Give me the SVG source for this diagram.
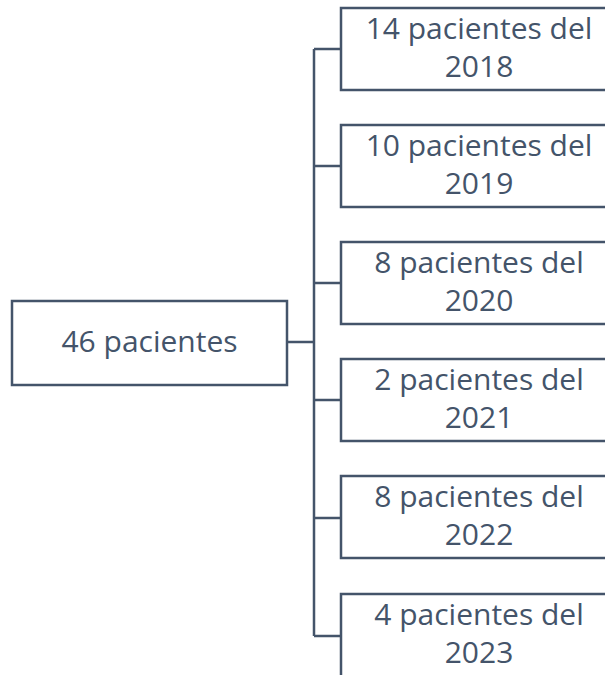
<svg xmlns="http://www.w3.org/2000/svg" width="605" height="675" viewBox="0 0 605 675">
<style>
.box{fill:#fff;stroke:#44546A;stroke-width:2.5}
.lnk{fill:none;stroke:#44546A;stroke-width:2.5}
text{font-family:"Open Sans","Liberation Sans",sans-serif;font-size:30px;fill:#44546A;text-anchor:middle}
</style>
<rect width="605" height="675" fill="#fff"/>
<g id="connectors">
<path class="lnk" d="M287 342H314M314 49V636M314 49H341M314 166H341M314 283H341M314 400H341M314 518H341M314 636H341"/>
</g>
<g id="root"><rect class="box" x="12" y="301" width="275" height="84"/><text x="149.5" y="352">46 pacientes</text></g>
<g id="n2018"><rect class="box" x="341" y="8" width="280" height="82"/><text x="479" y="39">14 pacientes del</text><text x="479" y="77">2018</text></g>
<g id="n2019"><rect class="box" x="341" y="125" width="280" height="82"/><text x="479" y="156">10 pacientes del</text><text x="479" y="194">2019</text></g>
<g id="n2020"><rect class="box" x="341" y="242" width="280" height="82"/><text x="479" y="273">8 pacientes del</text><text x="479" y="311">2020</text></g>
<g id="n2021"><rect class="box" x="341" y="359" width="280" height="82"/><text x="479" y="390">2 pacientes del</text><text x="479" y="428">2021</text></g>
<g id="n2022"><rect class="box" x="341" y="476" width="280" height="82"/><text x="479" y="507">8 pacientes del</text><text x="479" y="545">2022</text></g>
<g id="n2023"><rect class="box" x="341" y="594" width="280" height="100"/><text x="479" y="625">4 pacientes del</text><text x="479" y="663">2023</text></g>
</svg>
